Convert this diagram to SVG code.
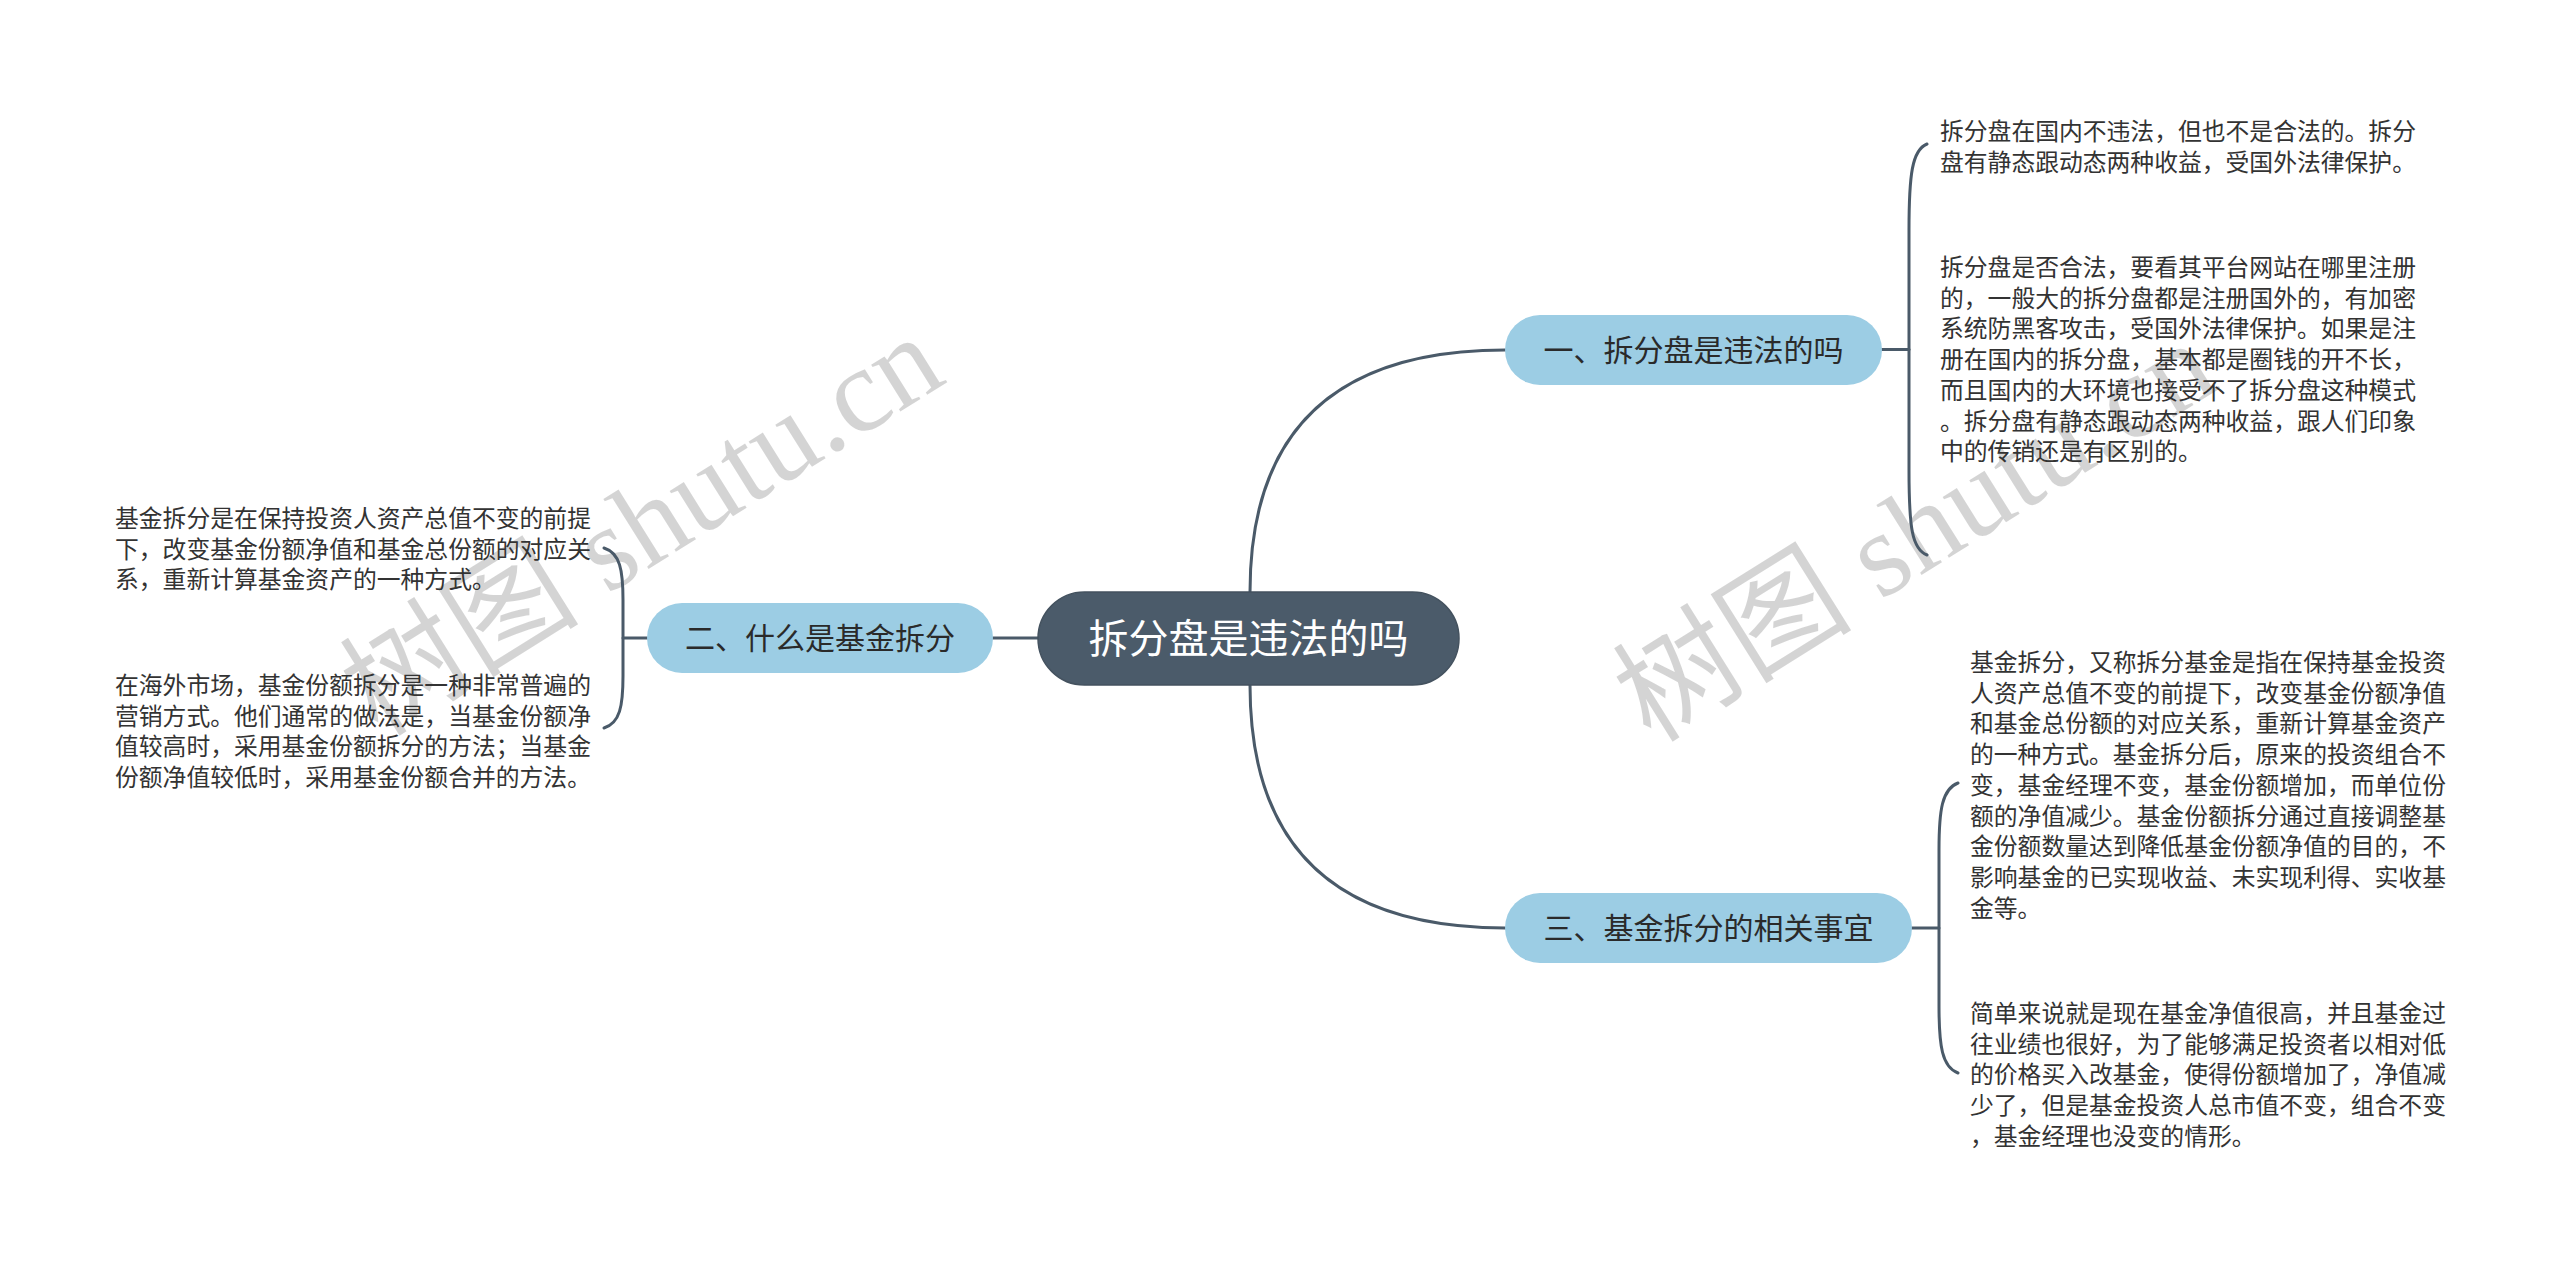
<svg xmlns="http://www.w3.org/2000/svg" width="2560" height="1263" viewBox="0 0 2560 1263">
<style>
.wm{font-family:"Liberation Serif","Noto Sans CJK SC",serif;font-size:120px;fill:#000;fill-opacity:0.17}
.wmc{font-family:"Noto Sans CJK SC","Liberation Serif",serif}
.conn{fill:none;stroke:#4a5a69;stroke-width:3;stroke-linecap:round}
.root rect{fill:#4b5b6a;stroke:#44525f;stroke-width:1.5}
.root text{font-family:"Noto Sans CJK SC","Noto Sans",sans-serif;font-size:40px;fill:#ffffff;text-anchor:middle}
.main rect{fill:#9ccde4}
.main text{font-family:"Noto Sans CJK SC","Noto Sans",sans-serif;font-size:30px;fill:#2a2a2a;text-anchor:middle}
.leaf text{font-family:"Noto Sans CJK SC","Noto Sans",sans-serif;font-size:23.8px;fill:#333333}
</style>
<rect width="2560" height="1263" fill="#ffffff"/>
<g id="watermarks">
<text class="wm" transform="translate(378 738) rotate(-32)"><tspan class="wmc">树图</tspan> shutu.cn</text>
<text class="wm" transform="translate(1651 744) rotate(-32)"><tspan class="wmc">树图</tspan> shutu.cn</text>
</g>
<g id="connectors">
<path class="conn" d="M1250 592 Q1250 350 1505 350"/>
<path class="conn" d="M1250 685 Q1250 928 1505 928"/>
<path class="conn" d="M1038 638 L993 638"/>
<path class="conn" d="M1882 349.5 L1909 349.5"/>
<path class="conn" d="M1927 144 C1912 150 1909 175 1909 230 L1909 470 C1909 528 1912 549 1927 555"/>
<path class="conn" d="M1912 928 L1939 928"/>
<path class="conn" d="M1958 783 C1942 789 1939 810 1939 850 L1939 1006 C1939 1046 1942 1067 1958 1073"/>
<path class="conn" d="M647 638 L623 638"/>
<path class="conn" d="M604 548 C620 553 623 570 623 600 L623 676 C623 706 620 723 604 728"/>
</g>
<g id="root" class="root">
<rect x="1038" y="592" width="421" height="93" rx="46.5"/>
<text x="1248.5" y="653">拆分盘是违法的吗</text>
</g>
<g id="branch1" class="main">
<rect x="1505" y="315" width="377" height="70" rx="35"/>
<text x="1693.5" y="361">一、拆分盘是违法的吗</text>
</g>
<g id="branch2" class="main">
<rect x="647" y="603" width="346" height="70" rx="35"/>
<text x="820" y="649">二、什么是基金拆分</text>
</g>
<g id="branch3" class="main">
<rect x="1505" y="893" width="407" height="70" rx="35"/>
<text x="1708.5" y="939">三、基金拆分的相关事宜</text>
</g>
<g id="leaf1a" class="leaf">
<text x="1940" y="140"><tspan x="1940">拆分盘在国内不违法，但也不是合法的。拆分</tspan><tspan x="1940" dy="30.7">盘有静态跟动态两种收益，受国外法律保护。</tspan></text>
</g>
<g id="leaf1b" class="leaf">
<text x="1940" y="276"><tspan x="1940">拆分盘是否合法，要看其平台网站在哪里注册</tspan><tspan x="1940" dy="30.7">的，一般大的拆分盘都是注册国外的，有加密</tspan><tspan x="1940" dy="30.7">系统防黑客攻击，受国外法律保护。如果是注</tspan><tspan x="1940" dy="30.7">册在国内的拆分盘，基本都是圈钱的开不长，</tspan><tspan x="1940" dy="30.7">而且国内的大环境也接受不了拆分盘这种模式</tspan><tspan x="1940" dy="30.7">。拆分盘有静态跟动态两种收益，跟人们印象</tspan><tspan x="1940" dy="30.7">中的传销还是有区别的。</tspan></text>
</g>
<g id="leaf2a" class="leaf">
<text x="115" y="527"><tspan x="115">基金拆分是在保持投资人资产总值不变的前提</tspan><tspan x="115" dy="30.7">下，改变基金份额净值和基金总份额的对应关</tspan><tspan x="115" dy="30.7">系，重新计算基金资产的一种方式。</tspan></text>
</g>
<g id="leaf2b" class="leaf">
<text x="115" y="694"><tspan x="115">在海外市场，基金份额拆分是一种非常普遍的</tspan><tspan x="115" dy="30.7">营销方式。他们通常的做法是，当基金份额净</tspan><tspan x="115" dy="30.7">值较高时，采用基金份额拆分的方法；当基金</tspan><tspan x="115" dy="30.7">份额净值较低时，采用基金份额合并的方法。</tspan></text>
</g>
<g id="leaf3a" class="leaf">
<text x="1970" y="671"><tspan x="1970">基金拆分，又称拆分基金是指在保持基金投资</tspan><tspan x="1970" dy="30.7">人资产总值不变的前提下，改变基金份额净值</tspan><tspan x="1970" dy="30.7">和基金总份额的对应关系，重新计算基金资产</tspan><tspan x="1970" dy="30.7">的一种方式。基金拆分后，原来的投资组合不</tspan><tspan x="1970" dy="30.7">变，基金经理不变，基金份额增加，而单位份</tspan><tspan x="1970" dy="30.7">额的净值减少。基金份额拆分通过直接调整基</tspan><tspan x="1970" dy="30.7">金份额数量达到降低基金份额净值的目的，不</tspan><tspan x="1970" dy="30.7">影响基金的已实现收益、未实现利得、实收基</tspan><tspan x="1970" dy="30.7">金等。</tspan></text>
</g>
<g id="leaf3b" class="leaf">
<text x="1970" y="1022"><tspan x="1970">简单来说就是现在基金净值很高，并且基金过</tspan><tspan x="1970" dy="30.7">往业绩也很好，为了能够满足投资者以相对低</tspan><tspan x="1970" dy="30.7">的价格买入改基金，使得份额增加了，净值减</tspan><tspan x="1970" dy="30.7">少了，但是基金投资人总市值不变，组合不变</tspan><tspan x="1970" dy="30.7">，基金经理也没变的情形。</tspan></text>
</g>
</svg>
